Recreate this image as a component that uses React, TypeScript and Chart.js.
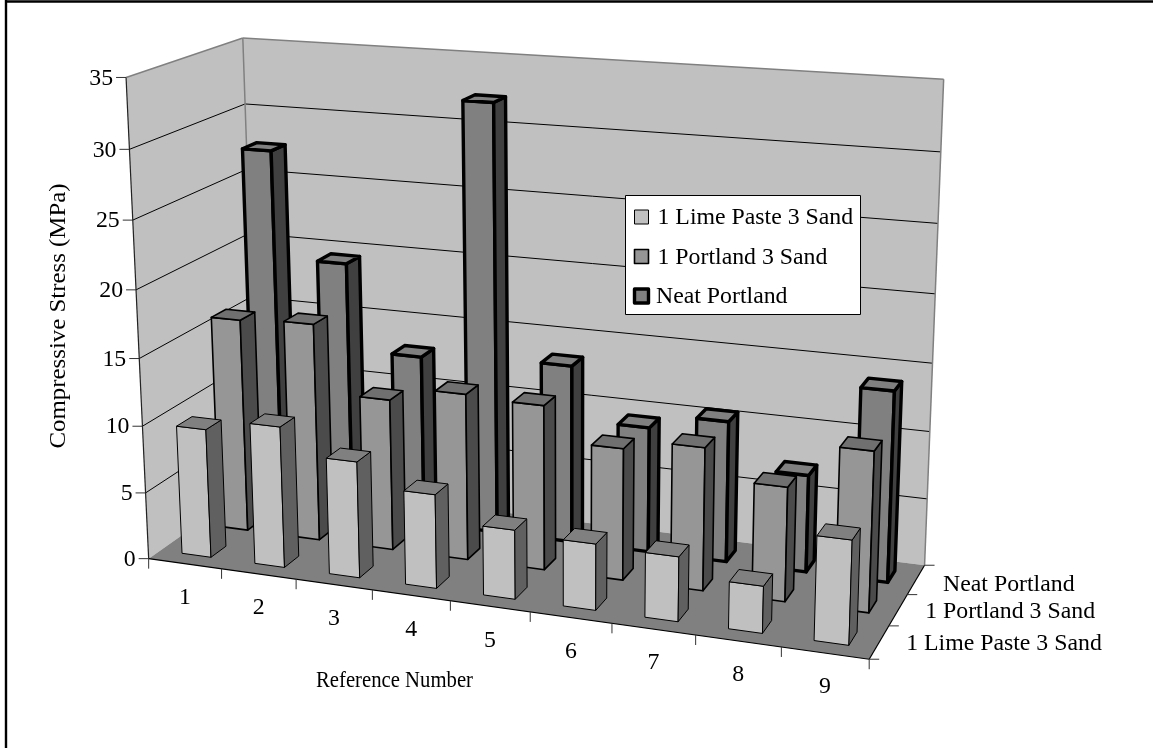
import React, { useEffect, useRef } from "react";
import { Chart, registerables } from "chart.js";

Chart.register(...registerables);

const referenceNumbers = ["1", "2", "3", "4", "5", "6", "7", "8", "9"];
const seriesNames = ["1 Lime Paste 3 Sand", "1 Portland 3 Sand", "Neat Portland"];
const limePaste = [9.65, 10.5, 8.6, 6.9, 5.05, 4.8, 4.65, 3.35, 7.35];
const portlandSand = [16.15, 16.4, 11.35, 12.4, 12.2, 9.7, 10.45, 8.3, 11.55];
const neatPortland = [27.5, 19.45, 12.9, 32.2, 13.4, 9.4, 10.5, 7.2, 14];
const yMax = 35;
const yStep = 5;

const FONT = '"Liberation Serif", "Times New Roman", serif';
const FS = 23.8;

const faces = [
  { front: "#c0c0c0", side: "#606060", top: "#808080", lw: 1 },
  { front: "#969696", side: "#4b4b4b", top: "#707070", lw: 1.6 },
  { front: "#808080", side: "#404040", top: "#808080", lw: 3.4 },
];

// Camera calibration: where normalised axis positions (u, v, z) land on the page.
const corners: number[][] = [
  [0, 0, 0, 148, 561], [1, 0, 0, 868, 657], [1, 0, 1, 925, 567], [0, 0, 1, 259, 478],
  [0, 1, 1, 241, 40], [1, 1, 1, 944, 79], [0, 1, 0, 127.5, 75.5],
];
const tickMarks: number[][] = [
  [0, 5 / 7, 0, 133.5, 219.5], [0, 3 / 7, 0, 140, 359.3], [0, 2 / 7, 0, 143, 427],
  [1 / 9, 0, 0, 220, 572], [2 / 9, 0, 0, 295.7, 581.7], [3 / 9, 0, 0, 373.3, 591.7],
  [4 / 9, 0, 0, 451, 601.7], [8 / 9, 0, 0, 781, 646.7],
  [1, 0, 1 / 3, 890, 625], [1, 0, 2 / 3, 908, 597],
];

function solveCamera(): number[] {
  const n = 11;
  const A = Array.from({ length: n }, () => new Array(n + 1).fill(0));
  const add = (row: number[], rhs: number, weight: number) => {
    for (let i = 0; i < n; i++) {
      for (let j = 0; j < n; j++) A[i][j] += weight * row[i] * row[j];
      A[i][n] += weight * row[i] * rhs;
    }
  };
  const addAll = (rows: number[][], weight: number) => {
    for (const [u, v, z, x, y] of rows) {
      add([u, v, z, 1, 0, 0, 0, 0, -x * u, -x * v, -x * z], x, weight);
      add([0, 0, 0, 0, u, v, z, 1, -y * u, -y * v, -y * z], y, weight);
    }
  };
  addAll(corners, 6);
  addAll(tickMarks, 1);
  for (let c = 0; c < n; c++) {
    let p = c;
    for (let r = c + 1; r < n; r++) if (Math.abs(A[r][c]) > Math.abs(A[p][c])) p = r;
    [A[c], A[p]] = [A[p], A[c]];
    for (let r = 0; r < n; r++) {
      if (r === c) continue;
      const f = A[r][c] / A[c][c];
      for (let k = c; k <= n; k++) A[r][k] -= f * A[c][k];
    }
  }
  return A.map((row, i) => row[n] / row[i]);
}

const cam = solveCamera();
type Pt = [number, number];
const project = (u: number, v: number, z: number): Pt => {
  const w = cam[8] * u + cam[9] * v + cam[10] * z + 1;
  return [
    (cam[0] * u + cam[1] * v + cam[2] * z + cam[3]) / w,
    (cam[4] * u + cam[5] * v + cam[6] * z + cam[7]) / w,
  ];
};

function poly(ctx: CanvasRenderingContext2D, pts: Pt[], fill?: string, stroke?: string, lw = 1) {
  ctx.beginPath();
  pts.forEach((p, i) => (i ? ctx.lineTo(p[0], p[1]) : ctx.moveTo(p[0], p[1])));
  ctx.closePath();
  if (fill) {
    ctx.fillStyle = fill;
    ctx.fill();
  }
  if (stroke) {
    ctx.strokeStyle = stroke;
    ctx.lineWidth = lw;
    ctx.stroke();
  }
}
function line(ctx: CanvasRenderingContext2D, a: Pt, b: Pt, color: string, lw = 1) {
  ctx.beginPath();
  ctx.moveTo(a[0], a[1]);
  ctx.lineTo(b[0], b[1]);
  ctx.strokeStyle = color;
  ctx.lineWidth = lw;
  ctx.stroke();
}

const depthLabelDy = [1, 2, 5];

const scene3d = {
  id: "scene3d",
  beforeDatasetsDraw(chart: any) {
    const ctx: CanvasRenderingContext2D = chart.ctx;
    const { x: xs, y: ys, depth: zs } = chart.scales;
    const U = (i: number) => (xs.getPixelForValue(i) - xs.left) / xs.width;
    const V = (val: number) => (ys.bottom - ys.getPixelForValue(val)) / ys.height;
    const Z = (i: number) => (zs.getPixelForValue(i) - zs.left) / zs.width;
    const du = 1 / chart.data.labels.length;
    const dz = 1 / seriesNames.length;
    ctx.save();
    ctx.lineJoin = "round";

    // Page frame, cut off at the right and bottom of the picture
    line(ctx, [5, 1.5], [1153, 1.5], "#000", 2.4);
    line(ctx, [6, 0], [6, 748], "#000", 2.4);

    // Walls and floor
    poly(ctx, [project(0, 0, 0), project(0, 0, 1), project(0, 1, 1), project(0, 1, 0)], "#c0c0c0");
    poly(ctx, [project(0, 0, 1), project(1, 0, 1), project(1, 1, 1), project(0, 1, 1)], "#c0c0c0");
    poly(ctx, [project(0, 0, 0), project(1, 0, 0), project(1, 0, 1), project(0, 0, 1)], "#808080");

    // Gridlines and y ticks
    ys.ticks.forEach((t: any) => {
      const v = V(t.value);
      if (t.value > 0 && t.value < yMax) {
        line(ctx, project(0, v, 0), project(0, v, 1), "#000", 1);
        line(ctx, project(0, v, 1), project(1, v, 1), "#000", 1);
      }
      const p = project(0, v, 0);
      line(ctx, [p[0] - 10, p[1]], p, "#333", 1);
      ctx.fillStyle = "#000";
      ctx.font = `${FS}px ${FONT}`;
      ctx.textAlign = "right";
      ctx.textBaseline = "middle";
      ctx.fillText(String(t.value), p[0] - 13, p[1] + 1);
    });
    line(ctx, project(0, 1, 0), project(0, 1, 1), "#808080", 1.5);
    line(ctx, project(0, 1, 1), project(1, 1, 1), "#808080", 1.5);
    line(ctx, project(0, 0, 1), project(0, 1, 1), "#808080", 1.5);
    line(ctx, project(1, 0, 1), project(1, 1, 1), "#808080", 1.5);
    line(ctx, project(0, 0, 0), project(0, 1, 0), "#222", 1.2);
    line(ctx, project(0, 0, 0), project(1, 0, 0), "#000", 1.2);
    line(ctx, project(1, 0, 0), project(1, 0, 1), "#000", 1.2);

    // Category ticks and labels
    ctx.font = `${FS}px ${FONT}`;
    ctx.fillStyle = "#000";
    for (let i = 0; i <= chart.data.labels.length; i++) {
      const p = project(i * du, 0, 0);
      line(ctx, p, [p[0], p[1] + 10], "#333", 1);
    }
    ctx.textAlign = "center";
    chart.data.labels.forEach((label: string, i: number) => {
      const p = project(U(i), 0, 0);
      ctx.fillText(label, p[0], p[1] + 34);
    });

    // Depth ticks and labels
    for (let s = 0; s <= seriesNames.length; s++) {
      const p = project(1, 0, s * dz);
      line(ctx, p, [p[0] + 10, p[1]], "#333", 1);
    }
    ctx.textAlign = "left";
    seriesNames.forEach((name, s) => {
      const p = project(1, 0, Z(s));
      ctx.fillText(name, p[0] + 27, p[1] + depthLabelDy[s]);
    });

    // Bars, back row first
    for (let s = chart.data.datasets.length - 1; s >= 0; s--) {
      const f = faces[s];
      const z0 = Z(s) - dz * 0.2;
      const z1 = Z(s) + dz * 0.2;
      chart.data.datasets[s].data.forEach((val: number, i: number) => {
        const u0 = U(i) - du * 0.2;
        const u1 = U(i) + du * 0.2;
        const v = V(val);
        poly(ctx, [project(u0, 0, z0), project(u1, 0, z0), project(u1, v, z0), project(u0, v, z0)], f.front, "#000", f.lw);
        poly(ctx, [project(u1, 0, z0), project(u1, 0, z1), project(u1, v, z1), project(u1, v, z0)], f.side, "#000", f.lw);
        poly(ctx, [project(u0, v, z0), project(u1, v, z0), project(u1, v, z1), project(u0, v, z1)], f.top, "#000", f.lw);
      });
    }

    // Axis titles
    ctx.fillStyle = "#000";
    ctx.font = `${FS}px ${FONT}`;
    ctx.textAlign = "center";
    ctx.textBaseline = "middle";
    ctx.save();
    ctx.translate(394.5, 681);
    ctx.scale(157 / ctx.measureText("Reference Number").width, 1);
    ctx.fillText("Reference Number", 0, 0);
    ctx.restore();
    ctx.save();
    ctx.translate(59, 316);
    ctx.rotate(-Math.PI / 2);
    ctx.scale(265 / ctx.measureText("Compressive Stress (MPa)").width, 1);
    ctx.fillText("Compressive Stress (MPa)", 0, 0);
    ctx.restore();

    // Legend
    ctx.fillStyle = "#fff";
    ctx.fillRect(625.5, 195.5, 235, 119);
    ctx.strokeStyle = "#000";
    ctx.lineWidth = 1;
    ctx.strokeRect(625.5, 195.5, 235, 119);
    const rows = [217, 256.5, 296];
    seriesNames.forEach((name, s) => {
      const y = rows[s];
      ctx.fillStyle = faces[s].front;
      ctx.strokeStyle = "#000";
      ctx.lineWidth = faces[s].lw;
      ctx.fillRect(634.5, y - 7, 14, 14);
      ctx.strokeRect(634.5, y - 7, 14, 14);
      ctx.fillStyle = "#000";
      ctx.font = `${FS}px ${FONT}`;
      ctx.textAlign = "left";
      ctx.fillText(name, s === 2 ? 656 : 657.5, y + 1);
    });

    ctx.restore();
    return false;
  },
};

export default function App() {
  const ref = useRef<HTMLCanvasElement>(null);
  useEffect(() => {
    document.body.style.margin = "0";
    const chart = new Chart(ref.current!, {
      type: "bar",
      data: {
        labels: referenceNumbers,
        datasets: [
          { label: seriesNames[0], data: limePaste },
          { label: seriesNames[1], data: portlandSand },
          { label: seriesNames[2], data: neatPortland },
        ],
      },
      options: {
        responsive: false,
        devicePixelRatio: 1,
        animation: false,
        plugins: { legend: { display: false }, tooltip: { enabled: false } },
        scales: {
          x: { type: "category", display: false, offset: true },
          depth: { type: "category", axis: "x", labels: seriesNames, display: false, offset: true },
          y: { type: "linear", display: false, min: 0, max: yMax, ticks: { stepSize: yStep } },
        },
      } as any,
      plugins: [scene3d],
    });
    return () => chart.destroy();
  }, []);
  return (
    <canvas
      ref={ref}
      width={1153}
      height={748}
      style={{ position: "absolute", left: 0, top: 0, display: "block", background: "#fff" }}
    />
  );
}
